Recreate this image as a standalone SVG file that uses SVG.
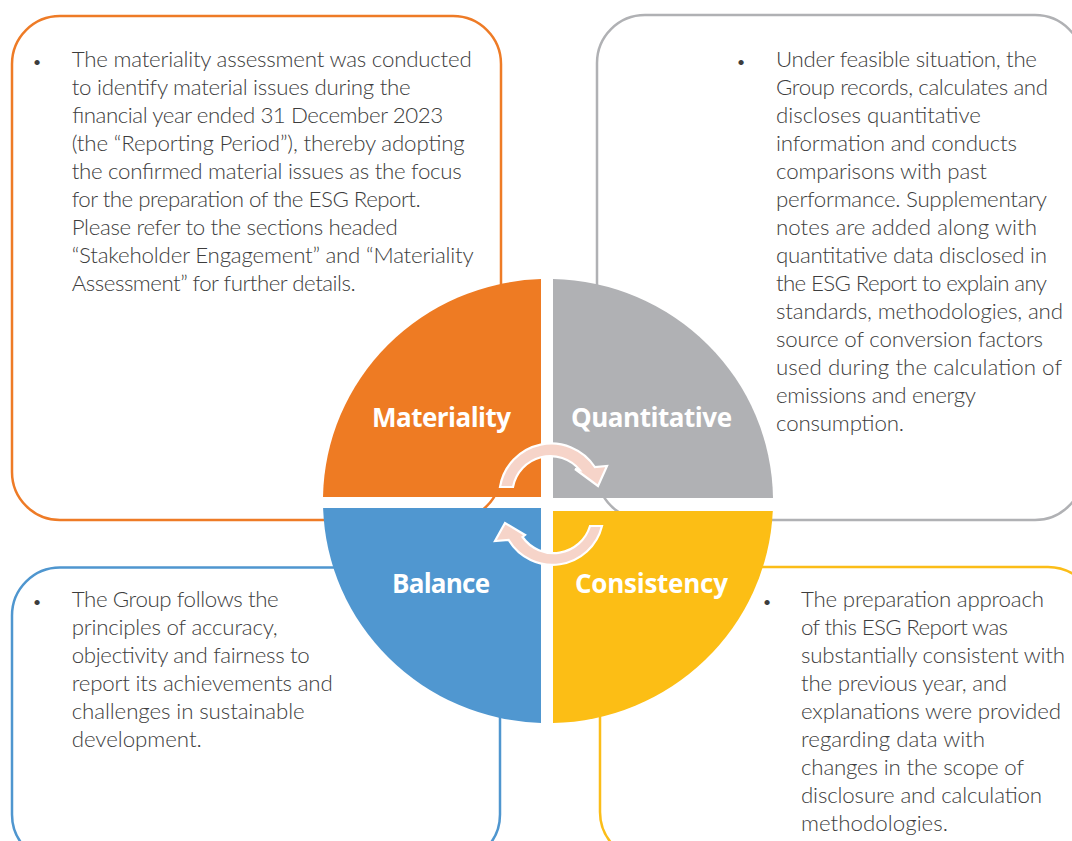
<svg xmlns="http://www.w3.org/2000/svg" width="1072" height="841" viewBox="0 0 1072 841">
<style>
.box{fill:#ffffff;stroke-width:2.5}
.body{font-family:Lato,"Liberation Sans",sans-serif;font-weight:300;font-size:22.3px;fill:#3d3d3d}
.bul{font-family:Lato,"Liberation Sans",sans-serif;font-size:14px;fill:#3d3d3d;text-anchor:middle}
.lbl{font-family:"Open Sans","Liberation Sans",sans-serif;font-weight:700;font-size:26px;fill:#ffffff}
.arrow{fill:#F6D4C9;stroke:#ffffff;stroke-width:2.2;stroke-linejoin:miter}
</style>
<rect width="1072" height="841" fill="#ffffff"/>
<g id="box-materiality">
<rect class="box" x="12" y="16" width="489" height="504" rx="48" ry="48" stroke="#EE7B26"/>
<text class="bul" x="37" y="67">•</text>
<text class="body" x="71.7" y="67" textLength="400">The materiality assessment was conducted</text>
<text class="body" x="71.7" y="95" textLength="339">to identify material issues during the</text>
<text class="body" x="71.7" y="123" textLength="371">financial year ended 31 December 2023</text>
<text class="body" x="71.7" y="151" textLength="393">(the “Reporting Period”), thereby adopting</text>
<text class="body" x="71.7" y="179" textLength="390">the confirmed material issues as the focus</text>
<text class="body" x="71.7" y="207" textLength="349">for the preparation of the ESG Report.</text>
<text class="body" x="71.7" y="235" textLength="326">Please refer to the sections headed</text>
<text class="body" x="71.7" y="263" textLength="402">“Stakeholder Engagement” and “Materiality</text>
<text class="body" x="71.7" y="291" textLength="284">Assessment” for further details.</text>
</g>
<g id="box-quantitative">
<rect class="box" x="597" y="15" width="486" height="505" rx="48" ry="48" stroke="#B0B1B4"/>
<text class="bul" x="741" y="67">•</text>
<text class="body" x="776" y="67" textLength="261">Under feasible situation, the</text>
<text class="body" x="776" y="95" textLength="272">Group records, calculates and</text>
<text class="body" x="776" y="123" textLength="205">discloses quantitative</text>
<text class="body" x="776" y="151" textLength="241">information and conducts</text>
<text class="body" x="776" y="179" textLength="211">comparisons with past</text>
<text class="body" x="776" y="207" textLength="271">performance. Supplementary</text>
<text class="body" x="776" y="235" textLength="261">notes are added along with</text>
<text class="body" x="776" y="263" textLength="271">quantitative data disclosed in</text>
<text class="body" x="776" y="291" textLength="271">the ESG Report to explain any</text>
<text class="body" x="776" y="319" textLength="287">standards, methodologies, and</text>
<text class="body" x="776" y="347" textLength="267">source of conversion factors</text>
<text class="body" x="776" y="375" textLength="286">used during the calculation of</text>
<text class="body" x="776" y="403" textLength="200">emissions and energy</text>
<text class="body" x="776" y="431" textLength="128">consumption.</text>
</g>
<g id="box-balance">
<rect class="box" x="12" y="567.5" width="488" height="295" rx="48" ry="48" stroke="#4F96CF"/>
<text class="bul" x="37" y="607">•</text>
<text class="body" x="71.7" y="607" textLength="207">The Group follows the</text>
<text class="body" x="71.7" y="635" textLength="206">principles of accuracy,</text>
<text class="body" x="71.7" y="663" textLength="238">objectivity and fairness to</text>
<text class="body" x="71.7" y="691" textLength="261">report its achievements and</text>
<text class="body" x="71.7" y="719" textLength="233">challenges in sustainable</text>
<text class="body" x="71.7" y="747" textLength="130">development.</text>
</g>
<g id="box-consistency">
<rect class="box" x="600" y="567" width="496" height="293" rx="48" ry="48" stroke="#FBBD18"/>
<text class="bul" x="767" y="607">•</text>
<text class="body" x="801" y="607" textLength="243">The preparation approach</text>
<text class="body" x="801" y="635" textLength="207">of this ESG Report was</text>
<text class="body" x="801" y="663" textLength="264">substantially consistent with</text>
<text class="body" x="801" y="691" textLength="206">the previous year, and</text>
<text class="body" x="801" y="719" textLength="260">explanations were provided</text>
<text class="body" x="801" y="747" textLength="184">regarding data with</text>
<text class="body" x="801" y="775" textLength="223">changes in the scope of</text>
<text class="body" x="801" y="803" textLength="241">disclosure and calculation</text>
<text class="body" x="801" y="831" textLength="147">methodologies.</text>
</g>
<g id="q-materiality">
<path d="M541,497 L323,497 A225,222 0 0 1 541,279.1 Z" fill="#EE7B23"/>
<text class="lbl" x="372" y="427" textLength="139">Materiality</text>
</g>
<g id="q-quantitative">
<path d="M553,498 L553,279 A225,222 0 0 1 773,498 Z" fill="#B0B1B4"/>
<text class="lbl" x="571" y="427" textLength="161">Quantitative</text>
</g>
<g id="q-balance">
<path d="M541,508 L541,722.9 A225,222 0 0 1 323.1,508 Z" fill="#5097D0"/>
<text class="lbl" x="392" y="593" textLength="98">Balance</text>
</g>
<g id="q-consistency">
<path d="M553,511 L772.8,511 A225,222 0 0 1 553,723 Z" fill="#FCBE15"/>
<text class="lbl" x="575" y="593" textLength="153">Consistency</text>
</g>
<g id="connectors">
<path class="arrow" d="M500,487 A52,52 0 0 1 594.8,467 L607,466 L598,486 L575,469 L579.7,470 A38,38 0 0 0 513,487 Z"/>
<path class="arrow" d="M602,526 A51,51 0 0 1 508.7,540 L495,541 L505,523 L525,535 L522.5,537 A38,38 0 0 0 590,526 Z"/>
</g>
</svg>
